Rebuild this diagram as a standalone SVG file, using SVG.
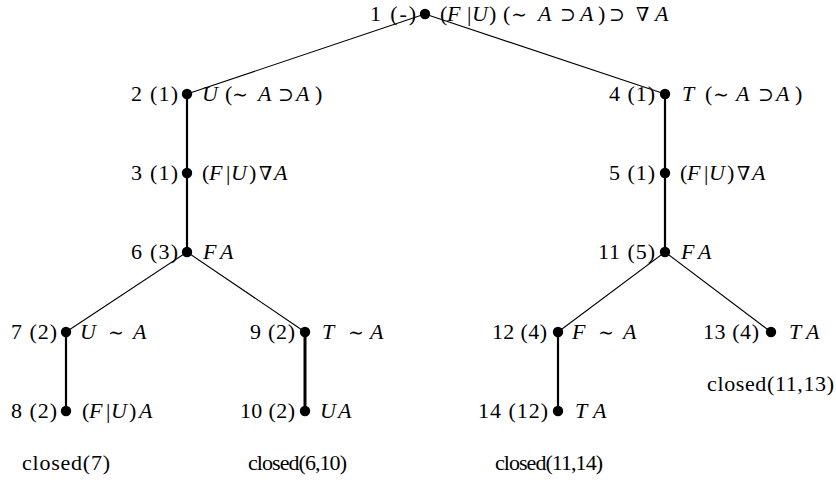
<svg xmlns="http://www.w3.org/2000/svg" width="836" height="485" viewBox="0 0 836 485">
<style>
.t{font-family:'Liberation Serif','DejaVu Serif',serif;font-size:22px;fill:#000}
.l{text-anchor:end}
.i{font-style:italic}
.s{font-family:'DejaVu Serif',serif;font-size:19px}
.thin{stroke:#000;stroke-width:1.1;fill:none}
.thick{stroke:#000;stroke-width:2.2;fill:none}
.dot{fill:#000}
</style>
<rect width="836" height="485" fill="#fff"/>
<g id="connectors">
<line class="thin" x1="425" y1="14" x2="187" y2="94"/>
<line class="thin" x1="425" y1="14" x2="665" y2="94"/>
<line class="thick" x1="187" y1="94" x2="187" y2="252"/>
<line class="thick" x1="665" y1="94" x2="665" y2="252"/>
<line class="thin" x1="187" y1="252" x2="66" y2="332"/>
<line class="thin" x1="187" y1="252" x2="305" y2="332"/>
<line class="thin" x1="665" y1="252" x2="558" y2="332"/>
<line class="thin" x1="665" y1="252" x2="771" y2="332"/>
<line class="thick" x1="66" y1="332" x2="66" y2="411"/>
<line class="thick" x1="305" y1="332" x2="305" y2="411" style="stroke-width:3"/>
<line class="thick" x1="558" y1="332" x2="558" y2="411"/>
</g>
<g class="t" font-family="Liberation Serif, DejaVu Serif, serif" font-size="22" fill="#000">
<g id="n1"><circle class="dot" cx="425" cy="14" r="5.2"/><text class="l" x="416" y="21" textLength="46">1 (-)</text>
<text y="21"><tspan x="440">(</tspan><tspan x="447" class="i">F</tspan><tspan x="467">|</tspan><tspan x="472" class="i">U</tspan><tspan x="489">)</tspan><tspan x="503">(</tspan><tspan x="511" class="s">∼</tspan><tspan x="538" class="i">A</tspan><tspan x="560" class="s">⊃</tspan><tspan x="580" class="i">A</tspan><tspan x="598">)</tspan><tspan x="609" class="s">⊃</tspan><tspan x="636" class="s">∇</tspan><tspan x="655" class="i">A</tspan></text></g>
<g id="n2"><circle class="dot" cx="187" cy="94" r="5.2"/><text class="l" x="178" y="101" textLength="47">2 (1)</text>
<text y="101"><tspan x="202" class="i">U</tspan><tspan x="225">(</tspan><tspan x="232" class="s">∼</tspan><tspan x="258" class="i">A</tspan><tspan x="278" class="s">⊃</tspan><tspan x="296" class="i">A</tspan><tspan x="315">)</tspan></text></g>
<g id="n3"><circle class="dot" cx="187" cy="173" r="5.2"/><text class="l" x="178" y="180" textLength="47">3 (1)</text>
<text y="180"><tspan x="202">(</tspan><tspan x="209" class="i">F</tspan><tspan x="226">|</tspan><tspan x="231" class="i">U</tspan><tspan x="249">)</tspan><tspan x="259" class="s">∇</tspan><tspan x="274" class="i">A</tspan></text></g>
<g id="n4"><circle class="dot" cx="665" cy="94" r="5.2"/><text class="l" x="655" y="101" textLength="46">4 (1)</text>
<text y="101"><tspan x="682" class="i">T</tspan><tspan x="705">(</tspan><tspan x="713" class="s">∼</tspan><tspan x="736" class="i">A</tspan><tspan x="758" class="s">⊃</tspan><tspan x="776" class="i">A</tspan><tspan x="795">)</tspan></text></g>
<g id="n5"><circle class="dot" cx="665" cy="173" r="5.2"/><text class="l" x="655" y="180" textLength="46">5 (1)</text>
<text y="180"><tspan x="680">(</tspan><tspan x="687" class="i">F</tspan><tspan x="704">|</tspan><tspan x="709" class="i">U</tspan><tspan x="727">)</tspan><tspan x="737" class="s">∇</tspan><tspan x="752" class="i">A</tspan></text></g>
<g id="n6"><circle class="dot" cx="187" cy="252" r="5.2"/><text class="l" x="178" y="259" textLength="47">6 (3)</text>
<text y="259"><tspan x="203" class="i">F</tspan><tspan x="220" class="i">A</tspan></text></g>
<g id="n11"><circle class="dot" cx="665" cy="252" r="5.2"/><text class="l" x="655" y="259" textLength="57">11 (5)</text>
<text y="259"><tspan x="681" class="i">F</tspan><tspan x="698" class="i">A</tspan></text></g>
<g id="n7"><circle class="dot" cx="66" cy="332" r="5.2"/><text class="l" x="57" y="339" textLength="46">7 (2)</text>
<text y="339"><tspan x="80" class="i">U</tspan><tspan x="108" class="s">∼</tspan><tspan x="133" class="i">A</tspan></text></g>
<g id="n9"><circle class="dot" cx="305" cy="332" r="5.2"/><text class="l" x="295" y="339" textLength="45">9 (2)</text>
<text y="339"><tspan x="322" class="i">T</tspan><tspan x="348" class="s">∼</tspan><tspan x="370" class="i">A</tspan></text></g>
<g id="n12"><circle class="dot" cx="558" cy="332" r="5.2"/><text class="l" x="547" y="339" textLength="55">12 (4)</text>
<text y="339"><tspan x="572" class="i">F</tspan><tspan x="598" class="s">∼</tspan><tspan x="623" class="i">A</tspan></text></g>
<g id="n13"><circle class="dot" cx="771" cy="332" r="5.2"/><text class="l" x="759" y="339" textLength="56">13 (4)</text>
<text y="339"><tspan x="789" class="i">T</tspan><tspan x="806" class="i">A</tspan></text></g>
<g id="n8"><circle class="dot" cx="66" cy="411" r="5.2"/><text class="l" x="57" y="418" textLength="46">8 (2)</text>
<text y="418"><tspan x="82">(</tspan><tspan x="89" class="i">F</tspan><tspan x="106">|</tspan><tspan x="111" class="i">U</tspan><tspan x="129">)</tspan><tspan x="139" class="i">A</tspan></text></g>
<g id="n10"><circle class="dot" cx="305" cy="411" r="5.2"/><text class="l" x="295" y="418" textLength="55">10 (2)</text>
<text y="418"><tspan x="320" class="i">U</tspan><tspan x="338" class="i">A</tspan></text></g>
<g id="n14"><circle class="dot" cx="558" cy="411" r="5.2"/><text class="l" x="548" y="418" textLength="70">14 (12)</text>
<text y="418"><tspan x="575" class="i">T</tspan><tspan x="593" class="i">A</tspan></text></g>
<g id="closures">
<text x="22" y="470" textLength="88">closed(7)</text>
<text x="248" y="470" textLength="99">closed(6,10)</text>
<text x="495" y="470" textLength="108">closed(11,14)</text>
<text x="707" y="391" textLength="127">closed(11,13)</text>
</g>
</g>
</svg>
